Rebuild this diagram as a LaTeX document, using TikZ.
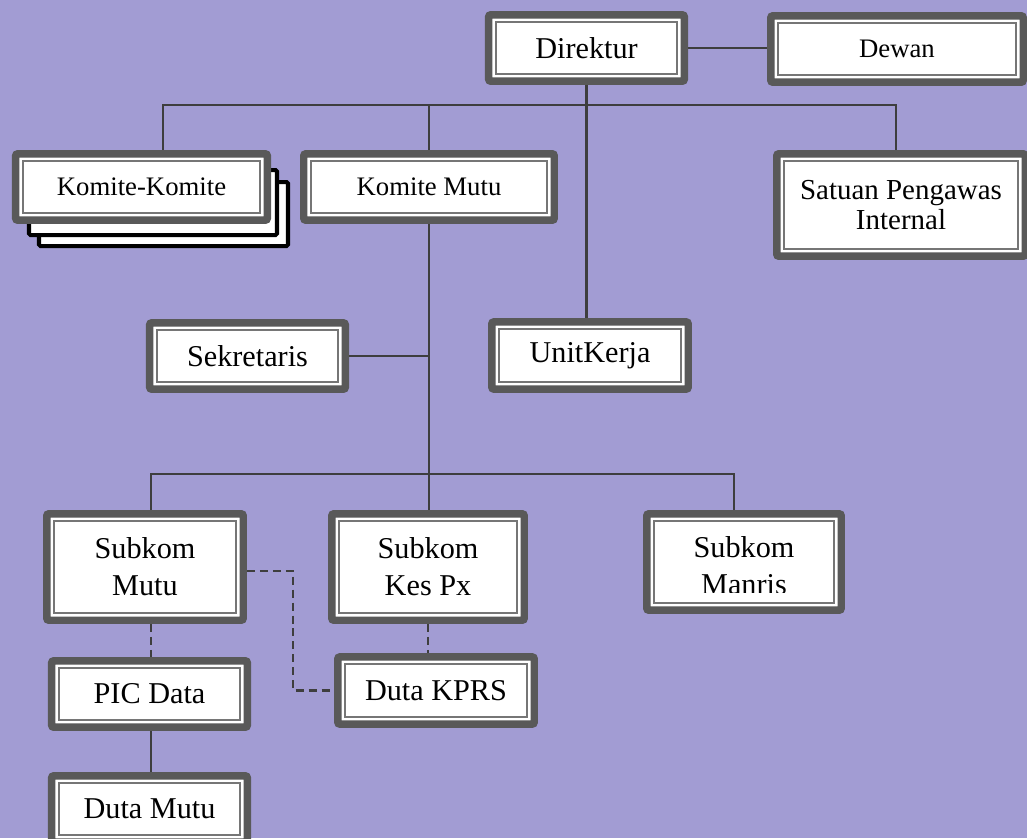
\documentclass[tikz,border=0pt]{standalone}
\usepackage{fontspec}
\setmainfont{Liberation Serif}
\usepackage{tikz}
\usetikzlibrary{backgrounds}
\definecolor{lavender}{RGB}{162,156,211}
\definecolor{framegray}{RGB}{89,89,89}
\definecolor{innergray}{RGB}{118,118,118}
\definecolor{linkgray}{RGB}{62,62,62}

\begin{document}
\begin{tikzpicture}[
  x=0.025cm,
  y=-0.025cm,
  orgbox/.style={
    rectangle,
    draw=framegray,
    fill=white,
    line width=5.3pt,
    rounded corners=1.5pt,
    inner sep=0pt,
    minimum width=4.89cm,
    minimum height=1.66cm,
    align=center,
    font=\fontsize{21.5}{26.3}\selectfont,
    path picture={
      \draw[innergray,line width=1.4pt,sharp corners]
        ([shift={(5.2pt,-5.2pt)}]path picture bounding box.north west)
        rectangle
        ([shift={(-5.2pt,5.2pt)}]path picture bounding box.south east);
    }
  },
  smalltext/.style={
    font=\fontsize{19}{23}\selectfont
  },
  stackbox/.style={
    draw=black,
    fill=white,
    line width=2.85pt,
    rounded corners=1pt
  },
  link/.style={
    draw=linkgray,
    line width=1.7pt
  },
  dashlink/.style={
    link,
    dash pattern=on 5.7pt off 3.5pt
  }
]

\useasboundingbox (0,0) rectangle (1027,838);

% stacked sheets behind Komite-Komite
\draw[stackbox] (39,182) rectangle (288,246);
\draw[stackbox] (29,170) rectangle (277,235);

\node[orgbox] (Direktur) at (586.5,48) {Direktur};
\node[orgbox,smalltext,minimum width=6.31cm] (Dewan) at (897,49) {Dewan};

\node[orgbox,smalltext,minimum width=6.29cm] (KomiteKomite) at (141.5,187) {Komite-Komite};
\node[orgbox,smalltext,minimum width=6.26cm] (KomiteMutu) at (429,187) {Komite Mutu};
\node[orgbox,font=\fontsize{20.6}{21}\selectfont,
  minimum width=6.21cm,minimum height=2.56cm] (Satuan) at (901,205)
  {Satuan Pengawas\\Internal};

\node[orgbox] (Sekretaris) at (247.5,356) {Sekretaris};
\node[orgbox,minimum width=4.91cm,minimum height=1.68cm] (UnitKerja) at (590,355.5) {UnitKerja};

\node[orgbox,minimum width=4.91cm,minimum height=2.66cm] (SubkomMutu) at (145,567) {Subkom\\Mutu};
\node[orgbox,minimum width=4.81cm,minimum height=2.66cm] (SubkomKes) at (428,567) {Subkom\\Kes Px};
\node[orgbox,minimum width=4.86cm,minimum height=2.41cm] (SubkomManris) at (744,562) {};
\begin{scope}
  \clip (643,500) rectangle (845,592);
  \node[font=\fontsize{21.5}{26.3}\selectfont,align=center] (ManrisText) at (744,566) {Subkom\\Manris};
\end{scope}

\node[orgbox] (PICData) at (149.5,694) {PIC Data};
\node[orgbox,minimum width=4.91cm,minimum height=1.68cm] (DutaKPRS) at (436,690.5) {Duta KPRS};
\node[orgbox] (DutaMutu) at (149.5,809) {Duta Mutu};

\coordinate (topBusL) at (163,105);
\coordinate (topBusR) at (896,105);
\coordinate (lowBusL) at (151,474);
\coordinate (lowBusR) at (734,474);
\coordinate (dashCorner) at (293,571);

\begin{scope}[on background layer]
  \fill[lavender] (0,0) rectangle (1027,838);

  \draw[link] (Direktur.east) -- (Direktur.east -| Dewan.west);
  \draw[link] (Direktur.south) -- (UnitKerja.north -| Direktur.south);
  \draw[link] (KomiteKomite.north -| topBusL) -- (topBusL) -- (topBusR)
    -- (Satuan.north -| topBusR);
  \draw[link] (KomiteMutu.north) -- (KomiteMutu.north |- topBusL);

  \draw[link] (KomiteMutu.south) -- (KomiteMutu.south |- lowBusL);
  \draw[link] (Sekretaris.east) -- (Sekretaris.east -| KomiteMutu.south);
  \draw[link] (SubkomMutu.north -| lowBusL) -- (lowBusL) -- (lowBusR)
    -- (SubkomManris.north -| lowBusR);
  \draw[link] (KomiteMutu.south |- lowBusL) -- (SubkomKes.north -| KomiteMutu.south);

  \draw[dashlink] (SubkomMutu.east |- dashCorner) -- (dashCorner)
    -- (dashCorner |- DutaKPRS.west) -- (DutaKPRS.west);
  \draw[dashlink] (SubkomKes.south) -- (DutaKPRS.north -| SubkomKes.south);
  \draw[dashlink] (SubkomMutu.south -| lowBusL) -- (PICData.north -| lowBusL);
  \draw[link] (PICData.south -| lowBusL) -- (DutaMutu.north -| lowBusL);
\end{scope}

\end{tikzpicture}
\end{document}
